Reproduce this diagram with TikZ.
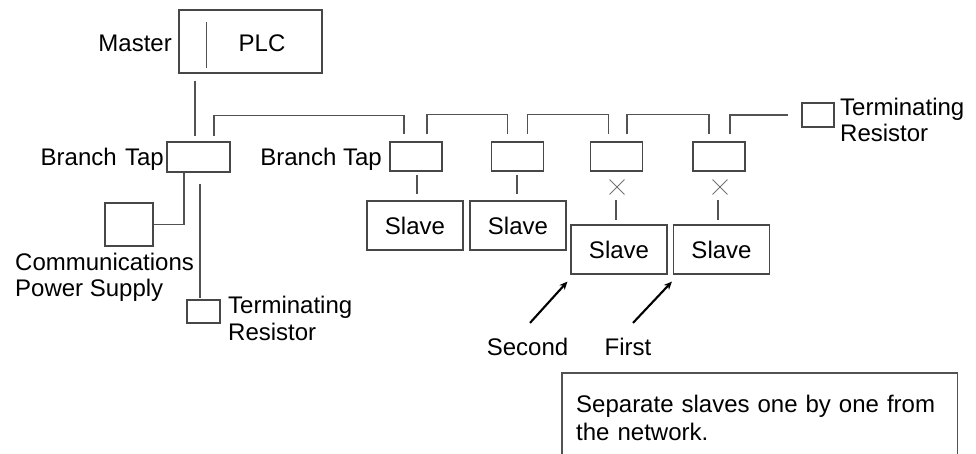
\documentclass[tikz,border=0pt]{standalone}
\usepackage{fontspec}
\setmainfont{Liberation Sans}
\usetikzlibrary{positioning,arrows.meta,calc,shapes.misc}
\tikzset{
  unitbox/.style={draw=black!72, line width=1.2pt, inner sep=0pt},
  plcbox/.style={unitbox, minimum width=143pt, minimum height=63pt},
  tapbox/.style={unitbox, minimum width=52pt, minimum height=29pt},
  slavebox/.style={unitbox, minimum width=96pt, minimum height=49pt},
  resbox/.style={unitbox, minimum width=33pt, minimum height=23pt},
  lab/.style={inner sep=0pt, align=left},
  wire/.style={draw=black!68, line width=1.1pt},
  cutmark/.style={cross out, draw=black!55, line width=0.9pt, minimum size=14pt,
    inner sep=0pt},
  pointer/.style={-{Stealth[length=8pt, width=7pt, inset=2.5pt]}, line width=2.1pt, black},
  notebox/.style={inner xsep=14pt, inner ysep=7.8pt, text width=367pt, align=left,
    minimum height=90pt, font=\fontsize{24}{28.4}\selectfont},
}

\begin{document}
\begin{tikzpicture}[x=1pt, y=-1pt, font=\fontsize{24}{26.5}\selectfont]
\useasboundingbox (0,0) rectangle (976,453);
% master and the first branch tap
\node[plcbox] (plc) at (250.5,41.5) {};
\draw[wire] ([xshift=28.5,yshift=-13]plc.north west) -- ([xshift=28.5,yshift=6]plc.south west);
\node[lab, anchor=base east] (masterlab) at (172,51.5) {Master};
\node[lab, anchor=base] (plclab) at (262,51.5) {PLC};
\node[tapbox, minimum width=63pt, minimum height=30pt] (tapA) at (198.5,157) {};
\node[lab, anchor=base east] (tapAlab) at (164,165) {Branch\hspace{0.35em}Tap};
\node[unitbox, minimum width=48pt, minimum height=43pt] (psu) at (129,224.5) {};
\node[lab, anchor=north west] (psulab) at (15,252.5) {Communications\\Power Supply};
\node[resbox] (termA) at (203.5,311.5) {};
\node[lab, anchor=north west] (termAlab) at (228,296) {Terminating\\Resistor};
\draw[wire] ([xshift=-55.5,yshift=-7]plc.south) -- ([xshift=-3.5,yshift=5]tapA.north);
\draw[wire] ([xshift=-14.5]tapA.south) |- (psu.east);
\draw[wire] ([xshift=1.5,yshift=-11]tapA.south) -- ([xshift=-3.5,yshift=1]termA.north);
% taps along the trunk line
\node[tapbox] (tapB) at (416,156.5) {};
\node[lab, anchor=base east] (tapBlab) at (382,165) {Branch Tap};
\node[tapbox] (tapC) at (517.5,156.5) {};
\node[tapbox] (tapD) at (616.5,156.5) {};
\node[tapbox] (tapE) at (719,156.5) {};
\node[resbox, minimum width=32pt, minimum height=24pt] (termB) at (818,115) {};
\node[lab, anchor=north west] (termBlab) at (840,97.7) {Terminating\\Resistor};
\draw[wire] ([xshift=15.5,yshift=5]tapA.north) -- ++(0,-21) -| ([xshift=-12,yshift=7]tapB.north);
\draw[wire] ([xshift=11,yshift=7]tapB.north) -- ++(0,-20) -| ([xshift=-10,yshift=7]tapC.north);
\draw[wire] ([xshift=10,yshift=7]tapC.north) -- ++(0,-20) -| ([xshift=-8,yshift=7]tapD.north);
\draw[wire] ([xshift=10.5,yshift=7]tapD.north) -- ++(0,-20) -| ([xshift=-10,yshift=7]tapE.north);
\draw[wire] ([xshift=11,yshift=7]tapE.north) |- ([xshift=-13]termB.west);
% slaves, the last two cut off
\node[slavebox] (slaveB) at (415,225.5) {Slave};
\node[slavebox] (slaveC) at (518,225.5) {Slave};
\node[slavebox] (slaveD) at (619,249.5) {Slave};
\node[slavebox] (slaveE) at (721.5,249.5) {Slave};
\node[cutmark] (cutD) at (617,187) {};
\node[cutmark] (cutE) at (720,187) {};
\draw[wire] ([xshift=1,yshift=-3]tapB.south) -- ([xshift=2,yshift=6]slaveB.north);
\draw[wire] ([xshift=-0.5,yshift=-3]tapC.south) -- ([xshift=-1,yshift=6]slaveC.north);
\draw[wire] ([xshift=-1,yshift=-6]cutD.south) -- ([xshift=-3,yshift=4]slaveD.north);
\draw[wire] ([xshift=-2,yshift=-6]cutE.south) -- ([xshift=-3.5,yshift=4]slaveE.north);
% order of separation
\node[lab, anchor=base] (second) at (527.5,355) {Second};
\node[lab, anchor=base] (first) at (628,355) {First};
\draw[pointer] ([xshift=2.5,yshift=14.5]second.north) -- ([xshift=-3,yshift=-7]slaveD.south west);
\draw[pointer] ([xshift=5,yshift=14.5]first.north) -- ([xshift=-1,yshift=-7]slaveE.south west);
% the note, running off the bottom edge
\node[notebox, anchor=north west] (note) at (562,373) {Separate slaves one by one from\\the network.};
\draw[wire] (note.south west) |- (note.north east) -- (note.south east);
\end{tikzpicture}
\end{document}
